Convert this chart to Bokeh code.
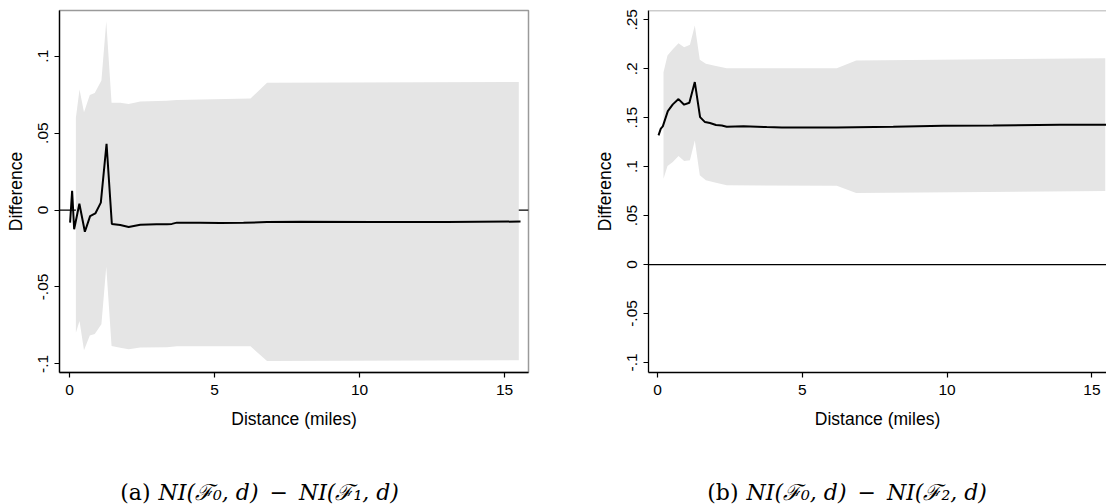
from bokeh.plotting import figure
from bokeh.models import Range1d, FixedTicker, Span
from bokeh.layouts import row, column
from bokeh.embed import file_html
from bokeh.resources import INLINE
from bokeh.core.properties import value

# ---------------- data ----------------
# Panel (a): NI(F0,d) - NI(F1,d)
a_dist = [0.02, 0.09, 0.16, 0.34, 0.53, 0.71, 0.89, 1.08, 1.277, 1.46, 1.75, 2.04, 2.44,
          3.00, 3.36, 3.53, 3.70, 4.50, 5.20, 6.00, 6.81, 7.96, 10.49, 13.00, 15.55]
a_diff = [-0.0082, 0.0125, -0.0125, 0.0041, -0.0141, -0.0040, -0.0022, 0.0048, 0.0431, -0.0091,
          -0.0097, -0.0110, -0.0095, -0.0093, -0.0093, -0.0090, -0.0082, -0.0083, -0.0085,
          -0.0083, -0.0078, -0.0076, -0.0077, -0.0077, -0.0075]
a_band_dist = [0.22, 0.345, 0.50, 0.70, 0.87, 1.10, 1.267, 1.45, 1.75, 2.04, 2.44, 3.36, 3.70,
               6.24, 6.81, 15.49]
a_upper = [0.0600, 0.0784, 0.0636, 0.0747, 0.0761, 0.0842, 0.1227, 0.0697, 0.0697, 0.0690,
           0.0705, 0.0710, 0.0716, 0.0725, 0.0827, 0.0833]
a_lower = [-0.0797, -0.0721, -0.0911, -0.0815, -0.0805, -0.0743, -0.0368, -0.0883, -0.0895,
           -0.0905, -0.0894, -0.0892, -0.0886, -0.0886, -0.0981, -0.0976]

# Panel (b): NI(F0,d) - NI(F2,d)
b_dist = [0.035, 0.114, 0.183, 0.356, 0.528, 0.725, 0.92, 1.10, 1.288, 1.47, 1.64, 1.81, 2.02,
          2.22, 2.39, 2.97, 3.77, 4.29, 6.19, 8.14, 9.87, 11.59, 13.89, 15.60]
b_diff = [0.1319, 0.1388, 0.1411, 0.1567, 0.1636, 0.1690, 0.1633, 0.1653, 0.1864, 0.1506,
          0.1455, 0.1445, 0.1425, 0.1420, 0.1408, 0.1412, 0.1404, 0.1400, 0.1400, 0.1408,
          0.1418, 0.1421, 0.1428, 0.1428]
b_band_dist = [0.207, 0.345, 0.528, 0.725, 0.92, 1.12, 1.288, 1.46, 1.67, 2.02, 2.39, 6.19,
               6.86, 15.46]
b_upper = [0.1965, 0.2136, 0.2200, 0.2261, 0.2220, 0.2245, 0.2442, 0.2092, 0.2051, 0.2027,
           0.2006, 0.2006, 0.2085, 0.2108]
b_lower = [0.0877, 0.1006, 0.1047, 0.1108, 0.1057, 0.1064, 0.1268, 0.0911, 0.0860, 0.0836,
           0.0809, 0.0806, 0.0731, 0.0751]

x_ticks = [0, 5, 10, 15]
a_y_ticks = [-0.1, -0.05, 0, 0.05, 0.1]
a_y_labels = ["-.1", "-.05", "0", ".05", ".1"]
b_y_ticks = [-0.1, -0.05, 0, 0.05, 0.1, 0.15, 0.2, 0.25]
b_y_labels = ["-.1", "-.05", "0", ".05", ".1", ".15", ".2", ".25"]

x_title = "Distance (miles)"
y_title = "Difference"
cap_tags = ["(a)", "(b)"]
cap_math = ["NI(\u2131\u2080, d)\u2002\u2212\u2002NI(\u2131\u2081, d)",
            "NI(\u2131\u2080, d)\u2002\u2212\u2002NI(\u2131\u2082, d)"]

BAND = "#e5e5e5"
FONT = "Liberation Sans"


def style(p, yt, yl):
    p.xaxis.ticker = FixedTicker(ticks=x_ticks)
    p.yaxis.ticker = FixedTicker(ticks=yt)
    p.yaxis.major_label_overrides = dict(zip(yt, yl))
    p.yaxis.major_label_orientation = "vertical"
    for ax in (p.xaxis, p.yaxis):
        ax.axis_line_color = "black"
        ax.axis_line_width = 1.3
        ax.major_tick_line_color = "black"
        ax.major_tick_line_width = 1.2
        ax.major_tick_out = 5
        ax.major_tick_in = 0
        ax.minor_tick_line_color = None
        ax.major_label_text_font = FONT
        ax.major_label_text_font_size = "15.5px"
        ax.major_label_text_color = "black"
        ax.axis_label_text_font = FONT
        ax.axis_label_text_font_size = "17.5px"
        ax.axis_label_text_font_style = "normal"
        ax.axis_label_text_color = "black"
    p.xaxis.major_label_standoff = 7
    p.yaxis.major_label_standoff = 6
    p.xaxis.axis_label_standoff = 11
    p.yaxis.axis_label_standoff = 10
    p.xaxis.axis_label = x_title
    p.yaxis.axis_label = y_title
    p.xgrid.grid_line_color = None
    p.ygrid.grid_line_color = None
    p.background_fill_color = "white"
    p.border_fill_color = "white"


# ---------------- panel (a) ----------------
p1 = figure(width=588, height=440, output_backend="svg", toolbar_location=None,
            x_range=Range1d(-0.345, 15.825), y_range=Range1d(-0.1056, 0.1297),
            min_border_left=59, min_border_right=60, min_border_top=9, min_border_bottom=68)
style(p1, a_y_ticks, a_y_labels)
p1.outline_line_color = "#9a9a9a"
p1.outline_line_width = 1.5
p1.add_layout(Span(location=0, dimension="width", line_color="black", line_width=1.2,
                   level="underlay"))
p1.varea(x=a_band_dist, y1=a_lower, y2=a_upper, fill_color=BAND)
p1.line(a_dist, a_diff, line_color="black", line_width=2)

# ---------------- panel (b) ----------------
p2 = figure(width=518, height=440, output_backend="svg", toolbar_location=None,
            x_range=Range1d(-0.311, 15.504), y_range=Range1d(-0.1103, 0.2595),
            min_border_left=60, min_border_right=0, min_border_top=10, min_border_bottom=68)
style(p2, b_y_ticks, b_y_labels)
p2.outline_line_color = None
p2.add_layout(Span(location=p2.y_range.end, dimension="width", line_color="#9a9a9a",
                   line_width=1.5, level="overlay"))
p2.add_layout(Span(location=0, dimension="width", line_color="black", line_width=1.2,
                   level="underlay"))
p2.varea(x=b_band_dist, y1=b_lower, y2=b_upper, fill_color=BAND)
p2.line(b_dist, b_diff, line_color="black", line_width=2)

# ---------------- captions strip ----------------
p3 = figure(width=1106, height=64, output_backend="svg", toolbar_location=None,
            x_range=Range1d(0, 1106), y_range=Range1d(0, 64),
            min_border=0)
p3.axis.visible = False
p3.grid.visible = False
p3.outline_line_color = None
tag_x = [150, 738]
math_x = [158, 746]
cap_y = [12, 12]
p3.text(x=tag_x, y=cap_y, text=cap_tags, text_align="right", text_baseline="alphabetic",
        text_font=value("DejaVu Serif"), text_font_size="22px", text_color="black")
p3.text(x=math_x, y=cap_y, text=cap_math, text_align="left", text_baseline="alphabetic",
        text_font=value("DejaVu Serif"), text_font_style="italic", text_font_size="22px",
        text_color="black")

layout = column(row(p1, p2), p3)
open("out.html", "w").write(file_html(layout, INLINE))
